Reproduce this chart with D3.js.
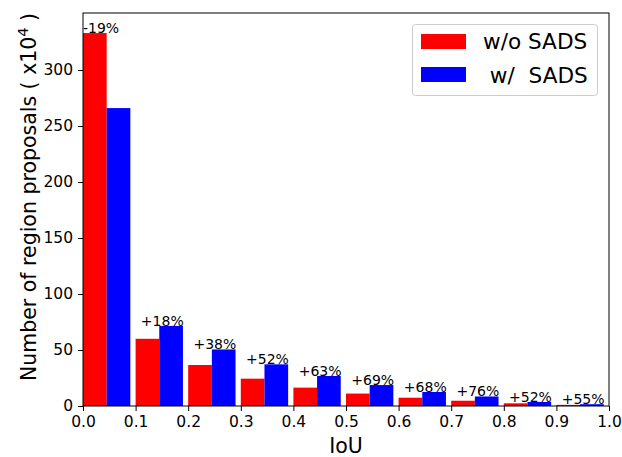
<!DOCTYPE html>
<html>
<head>
<meta charset="utf-8">
<script src="https://cdn.jsdelivr.net/npm/d3@7"></script>
<style>
  body { margin: 0; background: #fff; }
  svg { font-family: "DejaVu Sans", sans-serif; }
</style>
</head>
<body>
<div class="chart"></div>
<script>
// IoU bin starts
let bins = [0.0, 0.1, 0.2, 0.3, 0.4, 0.5, 0.6, 0.7, 0.8, 0.9]
// region proposals (x10^4)
let withoutSADS = [333, 60, 36.6, 24.4, 16.4, 11.1, 7.4, 4.7, 2.4, 1.0]
let withSADS = [266, 71.5, 50.5, 37.2, 26.8, 18.7, 12.5, 8.5, 3.6, 1.6]
let changeLabels = ["-19%", "+18%", "+38%", "+52%", "+63%", "+69%", "+68%", "+76%", "+52%", "+55%"]
let xTicks = [0, 0.1, 0.2, 0.3, 0.4, 0.5, 0.6, 0.7, 0.8, 0.9, 1.0]
let yTicks = [0, 50, 100, 150, 200, 250, 300]
let seriesNames = ["w/o SADS", " w/  SADS"]
let seriesColors = ["#ff0000", "#0000ff"]

let margin = { top: 13, right: 13, left: 83, bottom: 51 }
let fullWidth = 622, fullHeight = 457
let width = fullWidth - margin.left - margin.right
let height = fullHeight - margin.top - margin.bottom
let barW = 0.045

let svg = d3.select('.chart')
  .append('svg')
    .attr('width', fullWidth)
    .attr('height', fullHeight)

let g = svg.append('g')
  .attr('transform', `translate(${margin.left}, ${margin.top})`)

let xScale = d3.scaleLinear().domain([0, 1]).range([0, width])
let yScale = d3.scaleLinear().domain([0, 350.9]).range([height, 0])

// bars
let series = [withoutSADS, withSADS]
series.forEach((vals, s) => {
  g.append('g').selectAll('rect')
    .data(vals)
    .enter()
    .append('rect')
      .attr('x', (d, i) => xScale(bins[i] + s * barW))
      .attr('y', d => yScale(d))
      .attr('width', xScale(barW) - xScale(0))
      .attr('height', d => height - yScale(d))
      .style('fill', seriesColors[s])
})

// percentage labels
g.append('g').selectAll('text')
  .data(changeLabels)
  .enter()
  .append('text')
    .attr('x', (d, i) => i === 0 ? xScale(bins[i]) : xScale(bins[i] + 0.01))
    .attr('y', (d, i) => i === 0 ? yScale(withoutSADS[i]) : yScale(withSADS[i]))
    .style('font-size', '14px')
    .style('fill', '#000')
    .text(d => d)

// axes
let xAxis = d3.axisBottom(xScale).tickValues(xTicks).tickFormat(d3.format('.1f'))
  .tickSize(5).tickPadding(5)
let yAxis = d3.axisLeft(yScale).tickValues(yTicks).tickSize(5).tickPadding(5)

let gx = g.append('g').attr('transform', `translate(0, ${height})`).call(xAxis)
let gy = g.append('g').call(yAxis)
;[gx, gy].forEach(a => {
  a.select('.domain').remove()
  a.selectAll('line').attr('stroke', '#000').attr('stroke-width', 1)
  a.selectAll('text').style('font-size', '15.5px').style('font-family', '"DejaVu Sans"').attr('fill', '#000')
})

// frame
g.append('rect')
  .attr('width', width).attr('height', height)
  .style('fill', 'none').style('stroke', '#000').style('stroke-width', 1)

// axis labels
svg.append('text')
  .attr('x', margin.left + width / 2)
  .attr('y', 452.5)
  .attr('text-anchor', 'middle')
  .style('font-size', '20.5px')
  .text('IoU')

let yl = svg.append('text')
  .attr('transform', `translate(35.5, 197) rotate(-90)`)
  .attr('text-anchor', 'middle')
  .style('font-size', '20.5px')
yl.append('tspan').text('Number of region proposals ( x10')
yl.append('tspan').attr('dy', -8).style('font-size', '14.5px').text('4')
yl.append('tspan').attr('dy', 8).text(' )')

// legend
let lg = svg.append('g')
lg.append('rect')
  .attr('x', 412.5).attr('y', 24.5).attr('width', 185).attr('height', 71)
  .attr('rx', 3)
  .style('fill', '#fff').style('stroke', '#ccc').style('stroke-width', 1)
seriesNames.forEach((name, i) => {
  lg.append('rect')
    .attr('x', 421).attr('y', 34 + i * 33).attr('width', 45).attr('height', 15)
    .style('fill', seriesColors[i])
  lg.append('text')
    .attr('x', 483).attr('y', 49.3 + i * 33.4)
    .style('font-size', '21.6px')
    .style('white-space', 'pre')
    .text(name)
})
</script>
</body>
</html>
